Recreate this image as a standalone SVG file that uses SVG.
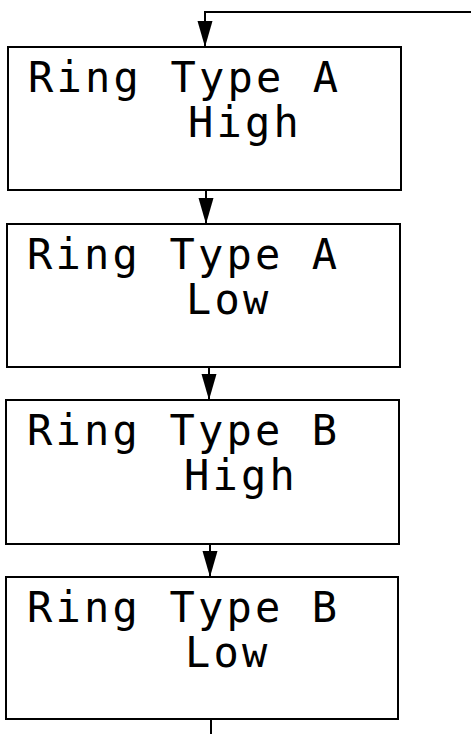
<svg xmlns="http://www.w3.org/2000/svg" width="471" height="734" viewBox="0 0 471 734">
<style>
.box{fill:#fff;stroke:#000;stroke-width:2}
.conn{fill:none;stroke:#000;stroke-width:2}
.t{font-family:"DejaVu Sans Mono",monospace;font-size:42px;letter-spacing:3.2px;fill:#000}
</style>
<defs>
<marker id="ah" markerUnits="userSpaceOnUse" markerWidth="26" markerHeight="16" viewBox="0 0 26 16" refX="25" refY="8" orient="auto">
<path d="M0,0.5 L26,8 L0,15.5 Z" fill="#000"/>
</marker>
</defs>
<rect width="471" height="734" fill="#fff"/>
<g id="connectors">
<path class="conn" d="M471,12 L205,12 L205,46" marker-end="url(#ah)"/>
<path class="conn" d="M206,190 L206,223" marker-end="url(#ah)"/>
<path class="conn" d="M209,367 L209,399" marker-end="url(#ah)"/>
<path class="conn" d="M210,544 L210,576" marker-end="url(#ah)"/>
<path class="conn" d="M211,719 L211,734"/>
</g>
<g id="node1">
<rect class="box" x="8" y="47" width="393" height="143"/>
<text class="t" x="28" y="92">Ring Type A</text>
<text class="t" x="188" y="137">High</text>
</g>
<g id="node2">
<rect class="box" x="7" y="224" width="393" height="143"/>
<text class="t" x="27" y="269">Ring Type A</text>
<text class="t" x="186" y="314">Low</text>
</g>
<g id="node3">
<rect class="box" x="6" y="400" width="393" height="144"/>
<text class="t" x="27" y="445">Ring Type B</text>
<text class="t" x="184" y="490">High</text>
</g>
<g id="node4">
<rect class="box" x="6" y="577" width="392" height="142"/>
<text class="t" x="27" y="622">Ring Type B</text>
<text class="t" x="185" y="667">Low</text>
</g>
</svg>
